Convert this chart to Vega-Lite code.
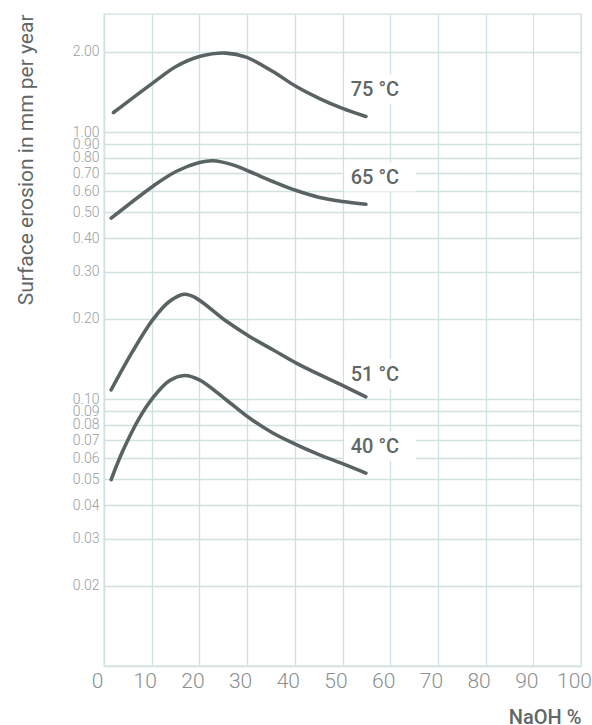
{
  "$schema": "https://vega.github.io/schema/vega-lite/v6.json",
  "width": 477,
  "height": 652,
  "autosize": {"type": "none"},
  "padding": {"left": 104, "top": 14, "right": 11, "bottom": 59},
  "background": "white",
  "config": {
    "font": "Roboto",
    "view": {"stroke": "#d0e2e0", "strokeWidth": 1.3},
    "axis": {"gridColor": "#d0e2e0", "gridWidth": 1.3, "domainColor": "#d0e2e0", "domainWidth": 1.3, "ticks": false}
  },
  "datasets": {
    "curves": [
      {"temp": "75 °C", "naoh": 2.0, "rate": 1.184},
      {"temp": "75 °C", "naoh": 10.2, "rate": 1.526},
      {"temp": "75 °C", "naoh": 15.1, "rate": 1.761},
      {"temp": "75 °C", "naoh": 20.0, "rate": 1.919},
      {"temp": "75 °C", "naoh": 25.6, "rate": 1.977},
      {"temp": "75 °C", "naoh": 29.8, "rate": 1.91},
      {"temp": "75 °C", "naoh": 35.4, "rate": 1.686},
      {"temp": "75 °C", "naoh": 40.3, "rate": 1.482},
      {"temp": "75 °C", "naoh": 45.2, "rate": 1.336},
      {"temp": "75 °C", "naoh": 50.0, "rate": 1.227},
      {"temp": "75 °C", "naoh": 54.9, "rate": 1.144},
      {"temp": "65 °C", "naoh": 1.5, "rate": 0.476},
      {"temp": "65 °C", "naoh": 10.2, "rate": 0.626},
      {"temp": "65 °C", "naoh": 15.1, "rate": 0.712},
      {"temp": "65 °C", "naoh": 20.0, "rate": 0.769},
      {"temp": "65 °C", "naoh": 22.8, "rate": 0.781},
      {"temp": "65 °C", "naoh": 27.0, "rate": 0.754},
      {"temp": "65 °C", "naoh": 30.5, "rate": 0.712},
      {"temp": "65 °C", "naoh": 35.4, "rate": 0.653},
      {"temp": "65 °C", "naoh": 40.3, "rate": 0.604},
      {"temp": "65 °C", "naoh": 45.2, "rate": 0.569},
      {"temp": "65 °C", "naoh": 50.0, "rate": 0.55},
      {"temp": "65 °C", "naoh": 54.9, "rate": 0.537},
      {"temp": "51 °C", "naoh": 1.5, "rate": 0.1083},
      {"temp": "51 °C", "naoh": 6.0, "rate": 0.1508},
      {"temp": "51 °C", "naoh": 10.2, "rate": 0.198},
      {"temp": "51 °C", "naoh": 13.7, "rate": 0.232},
      {"temp": "51 °C", "naoh": 16.9, "rate": 0.247},
      {"temp": "51 °C", "naoh": 19.3, "rate": 0.239},
      {"temp": "51 °C", "naoh": 25.6, "rate": 0.196},
      {"temp": "51 °C", "naoh": 30.5, "rate": 0.1716},
      {"temp": "51 °C", "naoh": 35.4, "rate": 0.153},
      {"temp": "51 °C", "naoh": 40.3, "rate": 0.1364},
      {"temp": "51 °C", "naoh": 45.2, "rate": 0.1235},
      {"temp": "51 °C", "naoh": 50.0, "rate": 0.1125},
      {"temp": "51 °C", "naoh": 54.9, "rate": 0.102},
      {"temp": "40 °C", "naoh": 1.5, "rate": 0.0499},
      {"temp": "40 °C", "naoh": 3.9, "rate": 0.0637},
      {"temp": "40 °C", "naoh": 7.4, "rate": 0.0849},
      {"temp": "40 °C", "naoh": 10.2, "rate": 0.1008},
      {"temp": "40 °C", "naoh": 13.7, "rate": 0.117},
      {"temp": "40 °C", "naoh": 16.9, "rate": 0.1226},
      {"temp": "40 °C", "naoh": 20.0, "rate": 0.118},
      {"temp": "40 °C", "naoh": 25.6, "rate": 0.0994},
      {"temp": "40 °C", "naoh": 30.5, "rate": 0.0849},
      {"temp": "40 °C", "naoh": 35.4, "rate": 0.0746},
      {"temp": "40 °C", "naoh": 40.3, "rate": 0.0675},
      {"temp": "40 °C", "naoh": 45.2, "rate": 0.0618},
      {"temp": "40 °C", "naoh": 50.0, "rate": 0.0573},
      {"temp": "40 °C", "naoh": 54.9, "rate": 0.0528}
    ],
    "labels": [
      {"temp": "75 °C", "naoh": 56.8, "rate": 1.44},
      {"temp": "65 °C", "naoh": 56.8, "rate": 0.674},
      {"temp": "51 °C", "naoh": 56.8, "rate": 0.1233},
      {"temp": "40 °C", "naoh": 56.8, "rate": 0.0663}
    ]
  },
  "encoding": {
    "x": {
      "field": "naoh", "type": "quantitative",
      "scale": {"domain": [0, 100], "nice": false},
      "axis": {
        "values": [0, 10, 20, 30, 40, 50, 60, 70, 80, 90, 100],
        "title": "NaOH %",
        "labelFontSize": 21, "labelFontWeight": 300, "labelColor": "#8a9090", "labelPadding": 4,
        "labelFlush": false, "labelOffset": -7,
        "titleFontSize": 20, "titleFontWeight": 500, "titleColor": "#5f6767",
        "titleAnchor": "end", "titleAlign": "right", "titleBaseline": "alphabetic",
        "titleX": 477, "titleY": 57
      }
    },
    "y": {
      "field": "rate", "type": "quantitative",
      "scale": {"type": "log", "domain": [0.01, 2.77], "nice": false},
      "axis": {
        "values": [0.02, 0.03, 0.04, 0.05, 0.06, 0.07, 0.08, 0.09, 0.1, 0.2, 0.3, 0.4, 0.5, 0.6, 0.7, 0.8, 0.9, 1, 2],
        "format": ".2f",
        "title": "Surface erosion in mm per year",
        "labelFontSize": 14, "labelFontWeight": 300, "labelColor": "#999d9d", "labelPadding": 5,
        "labelOverlap": false, "labelFlush": false,
        "titleFontSize": 21, "titleFontWeight": 400, "titleColor": "#5f6767",
        "titleAngle": -90, "titleAlign": "right", "titleBaseline": "alphabetic",
        "titleX": -72, "titleY": 0
      }
    }
  },
  "layer": [
    {
      "data": {"name": "labels"},
      "mark": {"type": "point", "shape": "M-0.86,-0.43H1.14V0.38H-0.86Z", "size": 5184, "filled": true, "fill": "white", "opacity": 1, "strokeWidth": 0}
    },
    {
      "data": {"name": "curves"},
      "mark": {"type": "line", "interpolate": "catmull-rom", "color": "#5a6363", "strokeWidth": 3.6, "strokeCap": "round"},
      "encoding": {"detail": {"field": "temp"}}
    },
    {
      "data": {"name": "labels"},
      "mark": {"type": "text", "fontSize": 20, "fontWeight": 500, "color": "#5f6767", "align": "center", "baseline": "middle"},
      "encoding": {"text": {"field": "temp"}}
    }
  ]
}
